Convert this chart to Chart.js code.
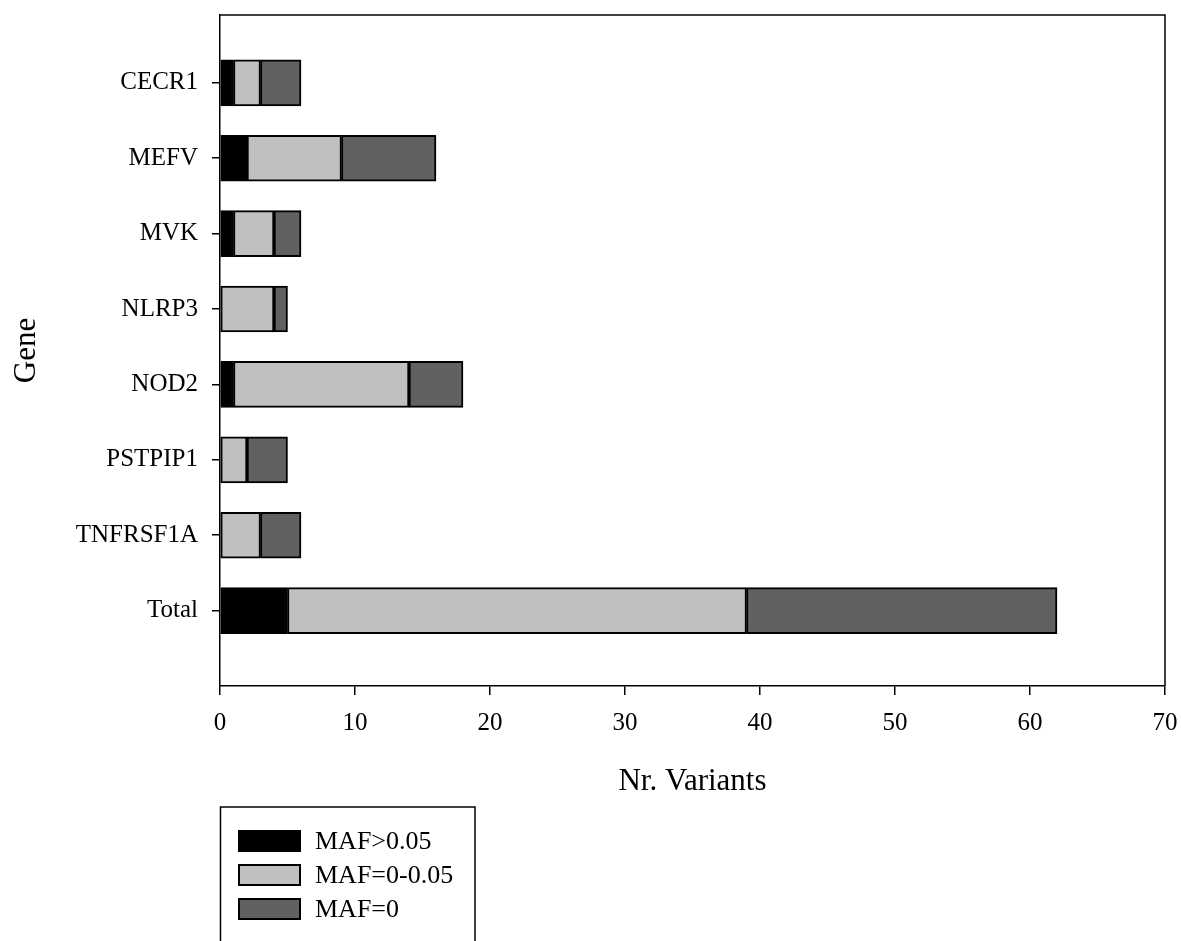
<!DOCTYPE html>
<html>
<head>
<meta charset="utf-8">
<title>Variants per gene</title>
<script src="https://cdn.jsdelivr.net/npm/chart.js@4/dist/chart.umd.min.js"></script>
<style>
  html, body { margin: 0; padding: 0; background: #ffffff; }
  #wrap { width: 1181px; height: 941px; }
</style>
</head>
<body>
<div id="wrap"><canvas id="chart" width="1181" height="941"></canvas></div>
<script>
// Genes, top to bottom
const GENES = ['CECR1', 'MEFV', 'MVK', 'NLRP3', 'NOD2', 'PSTPIP1', 'TNFRSF1A', 'Total'];
// Number of variants per minor-allele-frequency class
const MAF_HIGH = [1, 2, 1, 0, 1, 0, 0, 5];      // MAF>0.05
const MAF_LOW  = [2, 7, 3, 4, 13, 2, 3, 34];    // MAF=0-0.05
const MAF_ZERO = [3, 7, 2, 1, 4, 3, 3, 23];     // MAF=0
const SERIES_LABELS = ['MAF>0.05', 'MAF=0-0.05', 'MAF=0'];
const X_TICKS = [0, 10, 20, 30, 40, 50, 60, 70];

const FONT = 'Liberation Serif, Times New Roman, serif';
const COLORS = ['#000000', '#c0c0c0', '#616161'];

function points(values) {
  return values.map((v, i) => ({ x: v, y: i + 1 }));
}

const datasets = [MAF_HIGH, MAF_LOW, MAF_ZERO].map((vals, k) => ({
  label: SERIES_LABELS[k],
  data: points(vals),
  backgroundColor: COLORS[k],
  borderColor: '#000000',
  borderWidth: 2,
  borderSkipped: false,
  barThickness: 46
}));

// Keep the plot box fixed: no extra room for tick labels at the ends
function noEdgePadding(scale) {
  scale.paddingTop = 0;
  scale.paddingBottom = 0;
  scale.paddingLeft = 0;
  scale.paddingRight = 0;
}

// Closes the plot frame on the top and right sides
const frame = {
  id: 'frame',
  afterDatasetsDraw(chart) {
    const { ctx, chartArea: a } = chart;
    ctx.save();
    ctx.strokeStyle = '#000';
    ctx.lineWidth = 1.5;
    ctx.beginPath();
    ctx.moveTo(a.left, a.top);
    ctx.lineTo(a.right, a.top);
    ctx.lineTo(a.right, a.bottom);
    ctx.stroke();
    ctx.restore();
  }
};

// Boxed key below the plot, built from the dataset labels and colours
const keyBox = {
  id: 'keyBox',
  afterDraw(chart) {
    const { ctx } = chart;
    const left = 220.5, right = 475, top = 807, bottom = 960;
    ctx.save();
    ctx.strokeStyle = '#000';
    ctx.lineWidth = 1.5;
    ctx.beginPath();
    ctx.moveTo(left, bottom);
    ctx.lineTo(left, top);
    ctx.lineTo(right, top);
    ctx.lineTo(right, bottom);
    ctx.stroke();
    ctx.font = '26px ' + FONT;
    ctx.textBaseline = 'middle';
    ctx.textAlign = 'left';
    chart.data.datasets.forEach((ds, i) => {
      const y = 831 + i * 34;
      ctx.fillStyle = ds.backgroundColor;
      ctx.fillRect(239, y, 61, 20);
      ctx.lineWidth = 2;
      ctx.strokeRect(239, y, 61, 20);
      ctx.fillStyle = '#000';
      ctx.fillText(ds.label, 315, y + 11);
    });
    ctx.restore();
  }
};

new Chart(document.getElementById('chart'), {
  type: 'bar',
  data: { datasets },
  options: {
    indexAxis: 'y',
    responsive: false,
    animation: false,
    layout: { padding: { left: 0, top: 15, right: 16, bottom: 141 } },
    plugins: {
      legend: { display: false },
      tooltip: { enabled: false }
    },
    scales: {
      x: {
        type: 'linear',
        stacked: true,
        min: 0,
        max: 70,
        afterBuildTicks(scale) { scale.ticks = X_TICKS.map(v => ({ value: v })); },
        afterFit(scale) { scale.height = 114; noEdgePadding(scale); },
        ticks: { color: '#000', font: { family: FONT, size: 25 }, padding: 13 },
        grid: { offset: false, drawOnChartArea: false, drawTicks: true, tickLength: 9, color: '#000', lineWidth: 1.5 },
        border: { display: true, color: '#000', width: 1.5 },
        title: {
          display: true,
          text: 'Nr. Variants',
          color: '#000',
          font: { family: FONT, size: 31 },
          padding: { top: 0, bottom: 0 }
        }
      },
      y: {
        type: 'linear',
        stacked: true,
        reverse: true,
        offset: false,
        min: 0.1,
        max: 9,
        afterBuildTicks(scale) { scale.ticks = GENES.map((g, i) => ({ value: i + 1 })); },
        afterFit(scale) { scale.width = 220; noEdgePadding(scale); },
        ticks: {
          color: '#000',
          font: { family: FONT, size: 25 },
          padding: 14,
          callback: (v) => GENES[Math.round(v) - 1] || ''
        },
        grid: { offset: false, drawOnChartArea: false, drawTicks: true, tickLength: 8, color: '#000', lineWidth: 1.5 },
        border: { display: true, color: '#000', width: 1.5 },
        title: {
          display: true,
          text: 'Gene',
          color: '#000',
          font: { family: FONT, size: 31 },
          padding: { top: 8, bottom: 0 }
        }
      }
    }
  },
  plugins: [frame, keyBox]
});
</script>
</body>
</html>
